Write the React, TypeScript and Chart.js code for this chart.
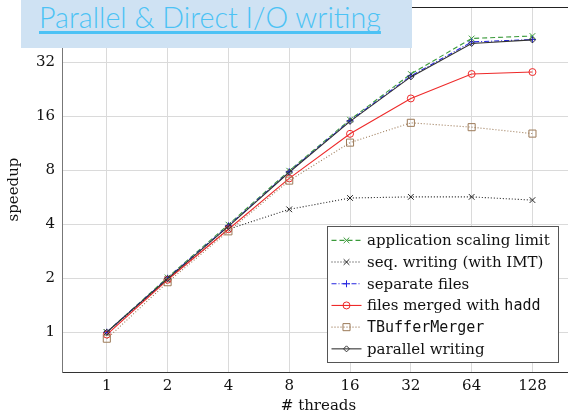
import React, { useEffect, useRef } from "react";
import { Chart, registerables } from "chart.js";

Chart.register(...registerables);

// ---- data ----
const threads = [1, 2, 4, 8, 16, 32, 64, 128];
const yTickValues = [1, 2, 4, 8, 16, 32];
const appScalingLimit = [1.0, 2.02, 3.98, 7.95, 15.3, 27.5, 43.4, 44.8];
const seqWriting = [1.0, 1.97, 3.75, 4.84, 5.6, 5.68, 5.68, 5.45];
const separateFiles = [1.0, 2.0, 3.92, 7.85, 15.1, 26.8, 41.5, 42.8];
const mergedHadd = [0.97, 1.96, 3.75, 7.2, 12.76, 20.1, 27.5, 28.2];
const tBufferMerger = [0.92, 1.9, 3.65, 7.0, 11.4, 14.7, 13.9, 12.8];
const parallelWriting = [1.0, 1.99, 3.89, 7.79, 14.98, 26.5, 40.7, 42.6];

const seriesLabels: [string, boolean][][] = [
  [["application scaling limit", false]],
  [["seq. writing (with IMT)", false]],
  [["separate files", false]],
  [["files merged with ", false], ["hadd", true]],
  [["TBufferMerger", true]],
  [["parallel writing", false]],
];
const seriesValues = [appScalingLimit, seqWriting, separateFiles, mergedHadd, tBufferMerger, parallelWriting];
const seriesColors = ["#3a9a3a", "#222222", "#2424e0", "#ee2a2a", "#9c7a58", "#333333"];
const seriesDashes = [[5, 3], [1, 2], [5, 2, 1, 2], [], [1, 2], []];
const seriesPoints = ["crossRot", "crossRot", "cross", "circle", "rect", "rectRot"];
const seriesRadius = [4, 4, 3.5, 3.5, 5, 3];

const titleText = "Parallel & Direct I/O writing";
const xTitle = "# threads";
const yTitle = "speedup";

const X_MIN = 0.616;
const X_MAX = 207.9;
const Y_MIN = 0.647;
const Y_MAX = 65;

const SERIF = '"DejaVu Serif", serif';
const MONO = '"DejaVu Sans Mono", monospace';

function drawMarker(ctx: CanvasRenderingContext2D, style: string, x: number, y: number, r: number, color: string) {
  ctx.save();
  ctx.setLineDash([]);
  ctx.strokeStyle = color;
  ctx.lineWidth = 1;
  ctx.beginPath();
  if (style === "crossRot") {
    const o = r * Math.SQRT1_2;
    ctx.moveTo(x - o, y - o); ctx.lineTo(x + o, y + o);
    ctx.moveTo(x - o, y + o); ctx.lineTo(x + o, y - o);
  } else if (style === "cross") {
    ctx.moveTo(x - r, y); ctx.lineTo(x + r, y);
    ctx.moveTo(x, y - r); ctx.lineTo(x, y + r);
  } else if (style === "circle") {
    ctx.arc(x, y, r, 0, Math.PI * 2);
  } else if (style === "rect") {
    const s = r * Math.SQRT1_2;
    ctx.rect(x - s, y - s, 2 * s, 2 * s);
  } else if (style === "rectRot") {
    ctx.moveTo(x, y - r); ctx.lineTo(x + r, y); ctx.lineTo(x, y + r); ctx.lineTo(x - r, y); ctx.closePath();
  }
  ctx.stroke();
  ctx.restore();
}

const framePlugin = {
  id: "frame",
  afterDatasetsDraw(chart: any) {
    const { ctx, chartArea: a } = chart;
    ctx.save();
    ctx.strokeStyle = "#222";
    ctx.lineWidth = 1;
    ctx.beginPath();
    ctx.moveTo(a.left, Math.round(a.top) + 0.5);
    ctx.lineTo(a.right, Math.round(a.top) + 0.5);
    ctx.moveTo(Math.round(a.right) + 0.5, a.top);
    ctx.lineTo(Math.round(a.right) + 0.5, a.bottom);
    ctx.stroke();
    ctx.restore();
  },
};

const legendPlugin = {
  id: "texLegend",
  afterDraw(chart: any) {
    const { ctx, chartArea: a } = chart;
    const rowH = 21.7;
    ctx.save();
    let maxW = 0;
    seriesLabels.forEach((parts) => {
      let w = 0;
      parts.forEach(([t, mono]) => {
        ctx.font = `15px ${mono ? MONO : SERIF}`;
        w += ctx.measureText(t).width;
      });
      maxW = Math.max(maxW, w);
    });
    const boxW = 39.5 + maxW + 9;
    const boxH = seriesLabels.length * rowH + 6;
    const right = a.right - 17;
    const bottom = a.bottom - 10;
    const left = Math.round(right - boxW) + 0.5;
    const top = Math.round(bottom - boxH) + 0.5;
    ctx.fillStyle = "#ffffff";
    ctx.fillRect(left, top, Math.round(boxW), Math.round(boxH));
    ctx.strokeStyle = "#555";
    ctx.lineWidth = 1;
    ctx.strokeRect(left, top, Math.round(boxW), Math.round(boxH));
    seriesLabels.forEach((parts, i) => {
      const cy = top + 3 + rowH * (i + 0.5);
      const x0 = left + 4;
      const x1 = left + 34;
      ctx.save();
      ctx.strokeStyle = seriesColors[i];
      ctx.lineWidth = 1.1;
      ctx.setLineDash(seriesDashes[i]);
      ctx.beginPath();
      ctx.moveTo(x0, cy);
      ctx.lineTo(x1, cy);
      ctx.stroke();
      ctx.restore();
      drawMarker(ctx, seriesPoints[i], (x0 + x1) / 2, cy, seriesRadius[i], seriesColors[i]);
      let tx = left + 39.5;
      ctx.fillStyle = "#111";
      ctx.textBaseline = "middle";
      ctx.textAlign = "left";
      parts.forEach(([t, mono]) => {
        ctx.font = `15px ${mono ? MONO : SERIF}`;
        ctx.fillText(t, tx, cy + 1);
        tx += ctx.measureText(t).width;
      });
    });
    ctx.restore();
  },
};

export default function App() {
  const ref = useRef<HTMLCanvasElement>(null);
  useEffect(() => {
    const canvas = ref.current!;
    const datasets = seriesValues.map((vals, i) => ({
      label: seriesLabels[i].map((p) => p[0]).join(""),
      data: threads.map((t, j) => ({ x: t, y: vals[j] })),
      borderColor: seriesColors[i],
      backgroundColor: seriesColors[i],
      borderWidth: 1.1,
      borderDash: seriesDashes[i],
      pointStyle: seriesPoints[i] as any,
      pointRadius: seriesRadius[i],
      pointBorderColor: seriesColors[i],
      pointBackgroundColor: "rgba(0,0,0,0)",
      pointBorderWidth: 1,
      tension: 0,
      fill: false,
      order: seriesValues.length - 1 - i,
    }));
    const tickFont = { family: SERIF, size: 15 };
    const chart = new Chart(canvas, {
      type: "line",
      data: { datasets } as any,
      options: {
        responsive: false,
        animation: false,
        devicePixelRatio: 1,
        layout: { padding: { left: 0, top: 7, right: 45, bottom: 0 } },
        plugins: { legend: { display: false }, tooltip: { enabled: false }, title: { display: false } },
        scales: {
          x: {
            type: "logarithmic",
            min: X_MIN,
            max: X_MAX,
            afterBuildTicks: (s: any) => { s.ticks = threads.map((v) => ({ value: v })); },
            afterFit: (s: any) => { s.height = 44; s.paddingLeft = 0; s.paddingRight = 0; },
            ticks: { callback: (v: any) => String(v), font: tickFont, color: "#111", padding: 5, maxRotation: 0, autoSkip: false },
            grid: { color: "#dadada", drawTicks: false },
            border: { color: "#333" },
            title: { display: true, text: xTitle, font: tickFont, color: "#111", padding: { top: 0, bottom: 1 } },
          },
          y: {
            type: "logarithmic",
            min: Y_MIN,
            max: Y_MAX,
            afterBuildTicks: (s: any) => { s.ticks = yTickValues.map((v) => ({ value: v })); },
            afterFit: (s: any) => { s.width = 62; s.paddingTop = 0; s.paddingBottom = 0; },
            ticks: { callback: (v: any) => String(v), font: tickFont, color: "#111", padding: 7, autoSkip: false },
            grid: { color: "#dadada", drawTicks: false },
            border: { color: "#777" },
            title: { display: true, text: yTitle, font: tickFont, color: "#111", padding: { top: 5, bottom: 0 } },
          },
        },
      } as any,
      plugins: [framePlugin, legendPlugin],
    });
    return () => chart.destroy();
  }, []);

  return (
    <div style={{ position: "fixed", left: 0, top: 0, width: 568, height: 416, overflow: "hidden", background: "#fff" }}>
      <canvas ref={ref} width={620} height={416} style={{ position: "absolute", left: 0, top: 0, width: 620, height: 416 }} />
      <div
        style={{
          position: "absolute",
          left: 21,
          top: 0,
          width: 391,
          height: 48,
          background: "#cfe2f3",
        }}
      >
        <span
          style={{
            position: "absolute",
            left: 18,
            top: 0,
            fontFamily: "Lato, 'Open Sans', sans-serif",
            fontSize: 28.7,
            fontWeight: 300,
            lineHeight: "34px",
            color: "#4cc2f5",
            textDecoration: "underline",
            textDecorationThickness: "3px",
            textUnderlineOffset: "3px",
            textDecorationSkipInk: "none",
            whiteSpace: "nowrap",
          } as any}
        >
          {titleText}
        </span>
      </div>
    </div>
  );
}
